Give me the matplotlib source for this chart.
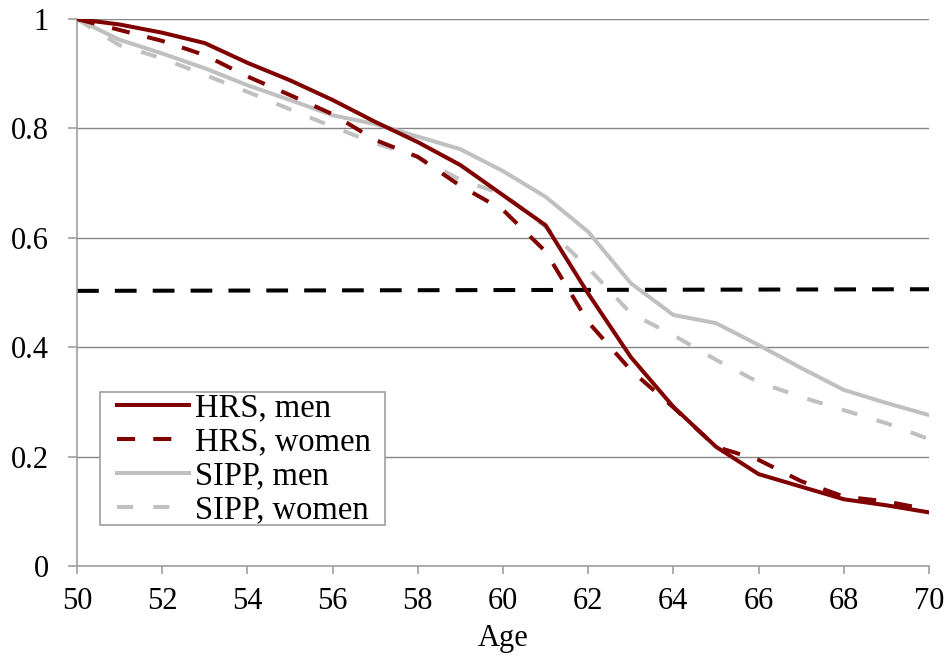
import matplotlib.pyplot as plt
from matplotlib.patches import Rectangle

# data
ages = list(range(50, 71))
hrs_men = [1.0, 0.99, 0.975, 0.956, 0.92, 0.888, 0.852, 0.812, 0.775, 0.733, 0.678,
           0.623, 0.498, 0.382, 0.291, 0.218, 0.168, 0.145, 0.122, 0.111, 0.098]
hrs_women = [1.0, 0.98, 0.96, 0.934, 0.895, 0.861, 0.826, 0.779, 0.748, 0.695, 0.651,
             0.575, 0.446, 0.358, 0.29, 0.218, 0.194, 0.155, 0.127, 0.118, 0.103]
sipp_men = [1.0, 0.962, 0.937, 0.91, 0.879, 0.852, 0.824, 0.808, 0.785, 0.762, 0.722,
            0.675, 0.611, 0.517, 0.459, 0.444, 0.404, 0.362, 0.322, 0.298, 0.276]
sipp_women = [1.0, 0.952, 0.928, 0.898, 0.867, 0.835, 0.803, 0.773, 0.748, 0.706, 0.68,
              0.62, 0.545, 0.462, 0.422, 0.377, 0.336, 0.309, 0.285, 0.261, 0.232]
half_x = [50, 70]
half_y = [0.503, 0.506]

red = '#800000'
grey = '#c0c0c0'
axis_grey = '#a0a0a0'

plt.rcParams['font.family'] = ['Liberation Serif', 'DejaVu Serif']
plt.rcParams['font.size'] = 22

fig = plt.figure(figsize=(9.46, 6.63), dpi=100)
ax = fig.add_axes([0.0814, 0.1463, 0.9006, 0.825])

lw = 2.9
ax.plot(half_x, half_y, color='black', lw=lw, linestyle=(0, (5.4, 4)), zorder=2)
ax.plot(ages, hrs_men, color=red, lw=lw, label='HRS, men', zorder=4)
ax.plot(ages, hrs_women, color=red, lw=lw, linestyle=(0, (4.5, 4.5)), label='HRS, women', zorder=5)
ax.plot(ages, sipp_men, color=grey, lw=lw, label='SIPP, men', zorder=3)
ax.plot(ages, sipp_women, color=grey, lw=lw, linestyle=(0, (4, 5)), label='SIPP, women', zorder=3)

ax.set_xlim(50, 70)
ax.set_ylim(0, 1)
ax.set_xticks(range(50, 71, 2))
ax.set_yticks([0, 0.2, 0.4, 0.6, 0.8, 1.0])
ax.set_yticklabels(['0', '0.2', '0.4', '0.6', '0.8', '1'])
ax.yaxis.grid(True, color='#868686', lw=1)
ax.set_axisbelow(True)
for s in ['top', 'right']:
    ax.spines[s].set_visible(False)
for s in ['left', 'bottom']:
    ax.spines[s].set_color(axis_grey)
    ax.spines[s].set_linewidth(1.2)
ax.tick_params(axis='x', direction='out', length=6, width=1.2, color=axis_grey, pad=9)
ax.tick_params(axis='y', direction='out', length=6.5, width=1.2, color=axis_grey, pad=14)
ax.set_xlabel('Age', labelpad=6)

# legend box drawn separately so the side padding can differ from the top/bottom
box = Rectangle((0.027, 0.075), 0.3345, 0.243, transform=ax.transAxes,
                facecolor='white', edgecolor=axis_grey, lw=1.2, zorder=9)
ax.add_patch(box)
leg = ax.legend(loc='lower left', bbox_to_anchor=(0.047, 0.075), frameon=False,
                handlelength=2.2, handletextpad=0.2, labelspacing=0.1,
                borderpad=0.0, borderaxespad=0, fontsize=23.5)
leg.set_zorder(10)

fig.savefig('out.png', dpi=100)
